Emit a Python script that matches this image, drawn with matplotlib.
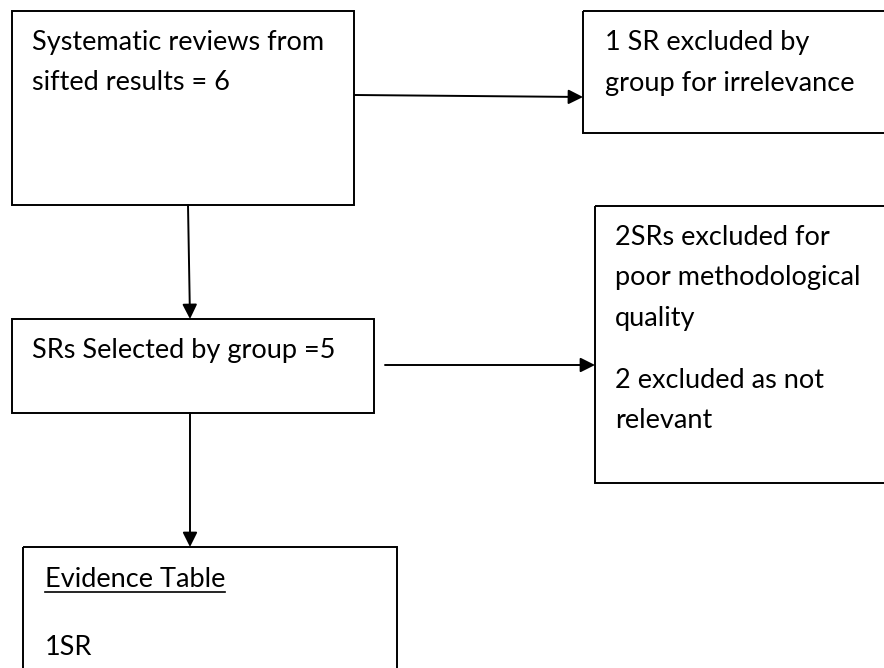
import matplotlib.pyplot as plt
from matplotlib.patches import Rectangle

# box texts (one entry per line, None = paragraph gap)
top_lines = ["Systematic reviews from", "sifted results = 6"]
excl1_lines = ["1 SR excluded by", "group for irrelevance"]
excl2_lines = ["2SRs excluded for", "poor methodological", "quality", None, "2 excluded as not", "relevant"]
selected_lines = ["SRs Selected by group =5"]
evidence_title = "Evidence Table"
evidence_lines = ["1SR"]

W, H = 884, 668
fig = plt.figure(figsize=(W / 100, H / 100), dpi=100)
ax = fig.add_axes([0, 0, 1, 1])
ax.set_xlim(0, W)
ax.set_ylim(H, 0)
ax.axis("off")

FONT = "Lato"
FS = 19.5
LINE = 40.5
LW = 1.4


def box(x0, y0, x1, y1):
    ax.add_patch(Rectangle((x0, y0), x1 - x0, y1 - y0, fill=False,
                           edgecolor="black", linewidth=LW, clip_on=False))


def lines(x, y, items, gap=62):
    for s in items:
        if s is None:
            y += gap - LINE
            continue
        ax.text(x, y, s, fontsize=FS, family=FONT, va="baseline", ha="left")
        y += LINE


def arrow(p0, p1):
    ax.annotate("", xy=p1, xytext=p0,
                arrowprops=dict(arrowstyle="-|>", color="black", lw=LW,
                                mutation_scale=22, shrinkA=0, shrinkB=0))


# boxes
box(12, 11, 354, 205)
box(583, 11, 900, 133)
box(595, 206, 900, 483)
box(12, 319, 374, 413)
box(23, 547, 397, 700)

# text
lines(32, 50, top_lines)
lines(605, 50, excl1_lines)
lines(615, 245, excl2_lines)
lines(32, 358, selected_lines)
t = ax.text(45, 587, evidence_title, fontsize=FS, family=FONT, va="baseline", ha="left")
lines(45, 655, evidence_lines)

# underline the evidence table heading
fig.canvas.draw()
bb = t.get_window_extent().transformed(ax.transData.inverted())
ax.plot([bb.x0, bb.x1], [592, 592], color="black", lw=1.2)

# arrows
arrow((355, 95), (583, 97))
arrow((385, 365), (595, 365))
arrow((188, 205), (190, 319))
arrow((190, 413), (190, 547))

fig.savefig("out.png", dpi=100)
